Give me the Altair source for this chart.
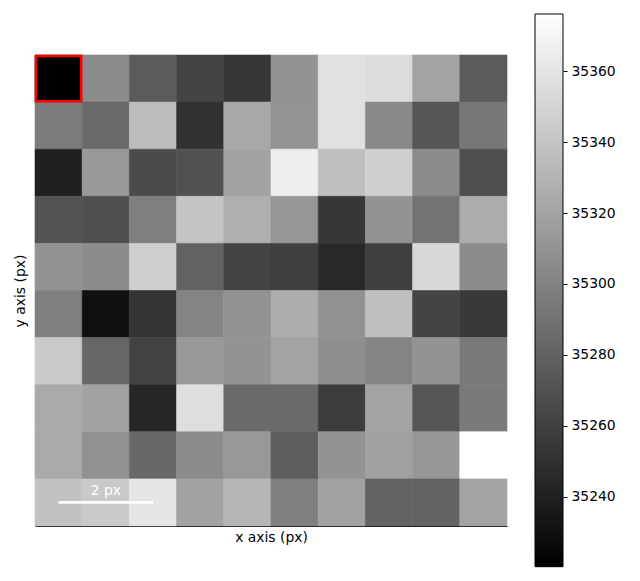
import altair as alt
import pandas as pd

# pixel values, row by row (row 0 = top)
row0 = [35221, 35305, 35276, 35262, 35254, 35310, 35357, 35355, 35320, 35276]
row1 = [35296, 35285, 35335, 35251, 35323, 35311, 35357, 35304, 35273, 35293]
row2 = [35240, 35314, 35266, 35270, 35319, 35366, 35337, 35347, 35305, 35268]
row3 = [35271, 35268, 35298, 35340, 35327, 35312, 35254, 35310, 35290, 35326]
row4 = [35310, 35306, 35347, 35280, 35262, 35259, 35245, 35259, 35352, 35306]
row5 = [35298, 35230, 35252, 35301, 35310, 35326, 35309, 35337, 35262, 35255]
row6 = [35344, 35283, 35261, 35313, 35310, 35320, 35307, 35301, 35310, 35295]
row7 = [35324, 35319, 35244, 35356, 35285, 35285, 35257, 35320, 35273, 35295]
row8 = [35324, 35309, 35284, 35305, 35313, 35278, 35310, 35318, 35312, 35376]
row9 = [35339, 35343, 35361, 35319, 35331, 35298, 35319, 35281, 35281, 35320]
rows = [row0, row1, row2, row3, row4, row5, row6, row7, row8, row9]

cbar_ticks = [35240, 35260, 35280, 35300, 35320, 35340, 35360]
cbar_lo = 35220.3
cbar_hi = 35376.1

scalebar_len = 2
scalebar_label = "2 px"

recs = []
for r, vals in enumerate(rows):
    for c, v in enumerate(vals):
        recs.append({"x0": c - 0.5, "x1": c + 0.5, "y0": r - 0.5, "y1": r + 0.5, "v": v})
df = pd.DataFrame(recs)

FONT = "DejaVu Sans"
FS = 13.9
W, H = 472, 471

xs = alt.Scale(domain=[-0.5, 9.5], nice=False, zero=False)
ys = alt.Scale(domain=[-0.5, 9.5], nice=False, zero=False, reverse=True)
xax = alt.Axis(title="x axis (px)", labels=False, ticks=False, grid=False, domain=True,
               domainColor="black", domainWidth=1.2, titlePadding=4, titleFontSize=FS,
               titleFontWeight="normal", titleFont=FONT, titleColor="black")
yax = alt.Axis(title="y axis (px)", labels=False, ticks=False, grid=False, domain=False,
               titlePadding=8, titleFontSize=FS, titleFontWeight="normal", titleFont=FONT,
               titleColor="black")
cscale = alt.Scale(domain=[cbar_lo, cbar_hi], range=["#000000", "#ffffff"], interpolate="rgb")

heat = alt.Chart(df).mark_rect(strokeWidth=0.6).encode(
    x=alt.X("x0:Q", scale=xs, axis=xax),
    x2="x1:Q",
    y=alt.Y("y0:Q", scale=ys, axis=yax),
    y2="y1:Q",
    color=alt.Color("v:Q", scale=cscale, legend=None),
    stroke=alt.Stroke("v:Q", scale=cscale, legend=None),
)

sel = pd.DataFrame({"x0": [-0.48], "x1": [0.48], "y0": [-0.48], "y1": [0.48]})
red = alt.Chart(sel).mark_rect(fill=None, stroke="red", strokeWidth=2.5).encode(
    x=alt.X("x0:Q", scale=xs, axis=xax), x2="x1:Q",
    y=alt.Y("y0:Q", scale=ys, axis=yax), y2="y1:Q",
)

sb = pd.DataFrame({"xa": [0], "xb": [scalebar_len], "y": [9.0], "xm": [scalebar_len / 2], "t": [scalebar_label]})
bar = alt.Chart(sb).mark_rule(color="white", strokeWidth=2.8).encode(
    x=alt.X("xa:Q", scale=xs, axis=xax), x2="xb:Q",
    y=alt.Y("y:Q", scale=ys, axis=yax),
)
txt = alt.Chart(sb).mark_text(color="white", fontSize=FS, font=FONT, baseline="alphabetic",
                              align="center", dy=-7).encode(
    x=alt.X("xm:Q", scale=xs, axis=xax),
    y=alt.Y("y:Q", scale=ys, axis=yax),
    text="t:N",
)

main = alt.layer(heat, red, bar, txt)

cb = pd.DataFrame({"lo": [cbar_lo], "hi": [cbar_hi]})
grad = alt.LinearGradient(gradient="linear",
                          stops=[alt.GradientStop(color="#000000", offset=0),
                                 alt.GradientStop(color="#ffffff", offset=1)],
                          x1=0, x2=0, y1=1, y2=0)
cbar = alt.Chart(cb).mark_rect(fill=grad, stroke="black", strokeWidth=1).encode(
    x=alt.value(500), x2=alt.value(528),
    y=alt.Y("hi:Q", scale=alt.Scale(domain=[cbar_lo, cbar_hi], range=[511.7, -41], nice=False, zero=False),
            axis=alt.Axis(orient="right", offset=56, values=cbar_ticks, format="d", title=None,
                          grid=False, domain=False, tickSize=4, tickColor="black", tickWidth=1,
                          labelPadding=4, labelFontSize=FS, labelFont=FONT, labelColor="black")),
    y2="lo:Q",
)

chart = alt.layer(main, cbar).resolve_scale(y="independent").resolve_axis(y="independent").properties(
    width=W, height=H,
    autosize=alt.AutoSizeParams(type="none"),
    padding={"left": 27, "top": 47, "right": 125, "bottom": 47},
).configure_view(stroke=None)

chart.save("out.html", embed_options={"renderer": "svg", "actions": False})
